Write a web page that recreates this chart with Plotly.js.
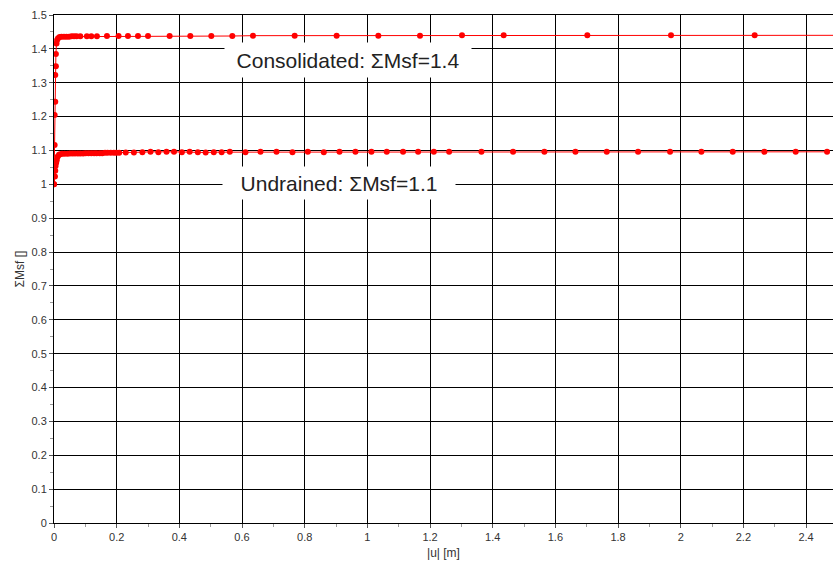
<!DOCTYPE html>
<html>
<head>
<meta charset="utf-8">
<script src="https://cdn.plot.ly/plotly-3.0.1.min.js"></script>
<style>html,body{margin:0;padding:0;background:#fff;}#chart{width:833px;height:568px;}</style>
</head>
<body>
<div id="chart"></div>
<script>
// Consolidated series
var consX = [0, 0.002, 0.002, 0.004, 0.004, 0.006, 0.006, 0.008, 0.010, 0.013,
             0.018, 0.024, 0.032, 0.040, 0.048, 0.056, 0.064, 0.072, 0.084, 0.105,
             0.119, 0.137, 0.169, 0.206, 0.236, 0.268, 0.300, 0.369, 0.435, 0.502,
             0.569, 0.635, 0.768, 0.902, 1.035, 1.168, 1.302, 1.435, 1.702, 1.969,
             2.236, 2.503];
var consY = [1.000, 1.116, 1.205, 1.244, 1.323, 1.349, 1.385, 1.416, 1.426, 1.431,
             1.435, 1.436, 1.436, 1.436, 1.436, 1.437, 1.437, 1.437, 1.437, 1.437,
             1.437, 1.437, 1.438, 1.438, 1.438, 1.438, 1.438, 1.438, 1.438, 1.438,
             1.438, 1.439, 1.439, 1.439, 1.439, 1.439, 1.440, 1.440, 1.440, 1.440,
             1.440, 1.440];
// Undrained series
var undX = [0, 0.003, 0.004, 0.005, 0.007, 0.009, 0.012, 0.016, 0.020, 0.026,
            0.034, 0.043, 0.051, 0.059, 0.067, 0.076, 0.084, 0.093, 0.101, 0.110,
            0.119, 0.128, 0.136, 0.146, 0.154, 0.163, 0.171, 0.181, 0.191, 0.199,
            0.208, 0.229, 0.255, 0.282, 0.308, 0.333, 0.359, 0.383, 0.408, 0.433,
            0.459, 0.484, 0.510, 0.535, 0.561, 0.611, 0.659, 0.710, 0.761, 0.810,
            0.861, 0.911, 0.962, 1.013, 1.062, 1.114, 1.162, 1.212, 1.261, 1.364,
            1.465, 1.565, 1.664, 1.764, 1.864, 1.966, 2.066, 2.166, 2.267, 2.367,
            2.467];
var undY = [1.000, 1.023, 1.040, 1.054, 1.064, 1.072, 1.082, 1.087, 1.089, 1.090,
            1.090, 1.090, 1.091, 1.091, 1.091, 1.091, 1.091, 1.091, 1.092, 1.092,
            1.092, 1.092, 1.092, 1.092, 1.092, 1.093, 1.093, 1.093, 1.093, 1.093,
            1.093, 1.094, 1.094, 1.095, 1.096, 1.095, 1.096, 1.096, 1.095, 1.096,
            1.095, 1.094, 1.095, 1.095, 1.096, 1.095, 1.096, 1.096, 1.095, 1.096,
            1.095, 1.096, 1.096, 1.096, 1.096, 1.096, 1.096, 1.096, 1.096, 1.096,
            1.096, 1.096, 1.096, 1.096, 1.096, 1.096, 1.096, 1.096, 1.096, 1.096,
            1.096];
var labels = ['Consolidated: \u03A3Msf=1.4', 'Undrained: \u03A3Msf=1.1'];
var xTitle = '|u| [m]';
var yTitle = '\u03A3Msf []';

var font = 'Liberation Sans, Arial, sans-serif';
var traces = [
  {x: consX, y: consY, mode: 'lines+markers', type: 'scatter',
   line: {color: '#ff0000', width: 1}, marker: {color: '#ff0000', size: 6}},
  {x: undX, y: undY, mode: 'lines+markers', type: 'scatter',
   line: {color: '#ff0000', width: 1}, marker: {color: '#ff0000', size: 6}}
];
var layout = {
  width: 833, height: 568,
  margin: {l: 54, r: 0, t: 15, b: 45},
  paper_bgcolor: '#fff', plot_bgcolor: '#fff',
  showlegend: false,
  font: {family: font, color: '#333'},
  xaxis: {
    range: [0, 2.486], tick0: 0, dtick: 0.2,
    showgrid: true, gridcolor: '#000', gridwidth: 1,
    zeroline: false, showline: true, linecolor: '#000', linewidth: 1, mirror: true,
    ticks: 'outside', ticklen: 4, tickcolor: '#555',
    tickfont: {size: 11, color: '#333', family: font},
    minor: {dtick: 0.1, ticks: 'outside', ticklen: 3, tickcolor: '#999', showgrid: false},
    title: {text: xTitle, font: {size: 12, color: '#333', family: font}, standoff: 6}
  },
  yaxis: {
    range: [0, 1.5], tick0: 0, dtick: 0.1,
    showgrid: true, gridcolor: '#000', gridwidth: 1,
    zeroline: false, showline: true, linecolor: '#000', linewidth: 1,
    ticks: 'outside', ticklen: 4, tickcolor: '#555',
    tickfont: {size: 11, color: '#333', family: font},
    minor: {dtick: 0.05, ticks: 'outside', ticklen: 3, tickcolor: '#999', showgrid: false},
    title: {text: yTitle, font: {size: 12, color: '#333', family: font}, standoff: 4}
  },
  annotations: [
    {x: 0.937, y: 1.367, xref: 'x', yref: 'y', text: labels[0], showarrow: false,
     bgcolor: '#fff', width: 244, height: 32, font: {size: 21, color: '#222', family: font}},
    {x: 0.91, y: 1.004, xref: 'x', yref: 'y', text: labels[1], showarrow: false,
     bgcolor: '#fff', width: 230, height: 30, font: {size: 21, color: '#222', family: font}}
  ]
};
Plotly.newPlot('chart', traces, layout, {staticPlot: true, displayModeBar: false});
</script>
</body>
</html>
